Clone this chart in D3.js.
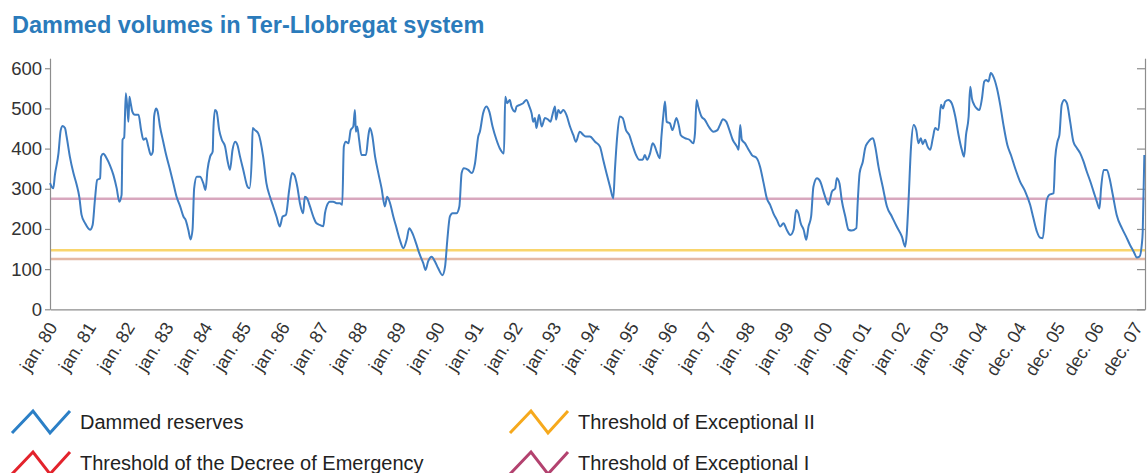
<!DOCTYPE html>
<meta charset="utf-8">
<style>
body { margin: 0; background: #fff; }
svg { font-family: "Liberation Sans", Arial, Helvetica, sans-serif; }
.title { font-weight: bold; font-size: 23.5px; fill: #2b7bbb; }
.axis text { fill: #333; }
.axis path, .axis line { stroke: #8d8d8d; stroke-width: 1.2; }
.legend text { font-size: 20px; fill: #222; }
</style>
<svg width="1147" height="473"></svg>
<script src="https://cdn.jsdelivr.net/npm/d3@7"></script>
<script>

// tick labels along the bottom, one per year
var tickLabels = ["jan. 80", "jan. 81", "jan. 82", "jan. 83", "jan. 84", "jan. 85", "jan. 86",
  "jan. 87", "jan. 88", "jan. 89", "jan. 90", "jan. 91", "jan. 92", "jan. 93", "jan. 94",
  "jan. 95", "jan. 96", "jan. 97", "jan. 98", "jan. 99", "jan. 00", "jan. 01", "jan. 02",
  "jan. 03", "jan. 04", "dec. 04", "dec. 05", "dec. 06", "dec. 07"];

var yTicks = [0, 100, 200, 300, 400, 500, 600];

// months since jan. 80 and dammed reserves (hm3)
var months = [
  0, 1.0, 1.5, 2.6, 3.3, 3.9, 4.6, 5.1, 6.1, 7.2, 8.2, 9.0, 9.7, 10.8, 12.3, 13.1, 13.8, 14.5, 15.4, 15.7,
  16.4, 17.4, 18.4, 19.5, 20.5, 21.3, 22.0, 22.3, 22.8, 23.3, 23.8, 24.1, 24.4, 24.8, 25.3, 26.1, 27.2, 28.0,
  28.7, 29.5, 30.2, 31.0, 31.6, 32.0, 32.6, 33.1, 33.8, 34.8, 35.7, 36.9, 37.9, 38.9, 40.0, 41.0, 41.7, 42.5,
  43.2, 43.8, 44.3, 45.1, 46.1, 47.1, 47.8, 48.4, 49.2, 50.0, 50.2, 50.7, 51.2, 52.0, 52.8, 53.8, 54.6, 55.3,
  56.1, 56.9, 57.6, 58.4, 59.4, 60.7, 61.3, 62.0, 62.3, 63.0, 64.0,
  65.5, 66.5, 67.6, 68.6, 69.6, 70.6, 71.5, 72.5, 73.5, 74.4, 75.1, 76.0, 76.8, 77.8, 78.3, 79.0, 79.9, 80.9,
  81.9, 82.9, 84.0, 84.5, 85.0, 86.0, 87.0, 88.1, 89.1, 89.8, 90.3, 90.9, 91.7, 92.4, 93.2, 93.7, 94.0, 94.4,
  95.0, 95.7, 97.1, 97.8, 98.3, 99.0, 99.9, 100.9, 101.9, 102.9, 103.6, 104.5, 105.5, 106.5, 107.5, 108.6,
  109.6, 110.4, 111.4, 112.5, 113.5, 114.7, 115.4, 116.2, 117.3, 118.3, 119.3, 120.6, 121.4, 122.1, 122.9,
  123.7, 124.9, 125.8, 126.5, 127.2, 128.5, 129.6, 130.6, 131.6,
  132.1, 133.1, 134.1, 135.0, 136.0, 137.2, 138.2, 139.5, 139.9, 140.5, 141.3, 141.8, 142.9, 143.4, 144.4,
  145.4, 146.4, 147.3, 148.0, 148.5, 149.0, 149.5, 150.3, 151.1, 152.1, 153.1, 153.8, 154.4, 155.2, 155.5,
  156.2, 156.9, 157.7, 158.7, 159.8, 160.8, 161.6, 162.8, 163.9, 164.7, 165.9, 167.5, 169.0, 170.0, 171.0,
  172.1, 173.1, 173.6, 174.3, 175.1, 176.0, 177.0, 178.0, 179.0, 180.1, 181.1, 182.1, 182.8, 183.5, 184.4,
  185.2, 185.9, 186.4, 187.4, 187.9, 188.5, 189.0, 189.5, 190.5, 191.3, 192.5, 193.3, 193.8, 195.1, 196.5,
  197.7, 198.2, 198.7, 199.2,
  200.2, 201.3, 202.4, 203.9, 205.1, 205.9, 206.8, 207.8, 208.8, 209.8, 211.1, 211.6, 212.1, 212.6, 213.6,
  214.7, 215.7, 217.2, 218.2, 219.3, 220.3, 221.3, 222.3, 223.4, 224.4, 225.4, 226.4, 227.5, 228.5, 229.3,
  230.0, 230.7, 231.6, 232.4, 233.1, 233.9, 234.6, 235.7, 236.7, 237.7, 238.7, 239.2, 240.3, 241.3, 241.8,
  242.6, 243.3, 244.4, 245.4, 246.4, 247.8, 248.2, 248.8, 249.8, 250.5, 251.5, 252.9, 253.6, 254.6, 255.9,
  257.2, 258.7, 260.2, 261.8, 262.8, 263.3, 263.8, 264.6, 265.4, 266.2, 266.9,
  267.6, 268.2, 268.9, 269.7, 270.5, 271.3, 272.0, 273.0, 273.8, 274.4, 275.1, 276.1, 277.1, 278.2, 279.2,
  280.2, 280.9, 281.5, 282.3, 282.8, 283.3, 284.0, 284.8, 285.6, 286.4, 287.1, 287.7, 288.4, 289.1, 289.9,
  291.0, 292.0, 293.0, 294.2, 295.3, 296.6, 298.1, 299.7, 301.2, 302.2, 303.3, 304.3, 305.1, 305.8, 306.3,
  307.1, 308.4, 308.9, 309.6, 310.2, 310.9, 311.7, 312.5, 313.5, 314.5, 315.6, 316.6, 317.6, 318.6, 319.7,
  320.7, 321.7, 322.5, 323.0, 323.8, 324.8, 325.6, 326.6, 327.8, 329.4, 330.7, 331.9, 333.0, 334.0, 334.8,
  335.5, 335.8, 336.3];

var reserves = [
  314, 301, 334, 388, 446, 456, 451, 430, 380, 339, 310, 280, 235, 214, 198, 210, 272, 322, 326, 380,
  387, 376, 359, 334, 301, 268, 285, 422, 428, 538, 496, 467, 529, 513, 492, 484, 484, 446,
  422, 426, 405, 384, 392, 480, 500, 492, 455, 417, 384, 347, 314, 280, 256, 231, 222, 198,
  174, 198, 301, 330, 330, 314, 297, 347, 380, 393, 446, 496, 492, 446, 422, 405, 368, 347,
  397, 417, 409, 380, 347, 305, 301, 376, 451, 446, 438,
  380, 314, 280, 256, 231, 206, 231, 235, 297, 339, 334, 305, 264, 239, 280, 276, 256, 231,
  214, 210, 207, 239, 256, 268, 268, 264, 264, 260, 405, 417, 413, 446, 455, 496, 442, 455,
  422, 384, 384, 430, 451, 434, 380, 339, 301, 256, 280, 264, 231, 202, 173, 152,
  173, 202, 189, 164, 139, 115, 98, 119, 131, 119, 102, 85, 106, 173, 231,
  239, 239, 256, 339, 351, 347, 339, 363, 430,
  442, 488, 505, 492, 455, 422, 401, 388, 529, 513, 521, 505, 492, 505, 509,
  513, 521, 505, 488, 467, 476, 451, 484, 455, 476, 472, 467, 484, 505, 472,
  496, 488, 496, 484, 455, 434, 417, 442, 434, 430, 430, 417, 405, 372, 339,
  305, 276, 347, 430, 480, 476, 446, 434, 409, 384, 372, 372, 384, 372, 388,
  413, 405, 393, 376, 430, 484, 517, 467, 463, 446, 476, 455, 434, 426, 422,
  413, 438, 521, 505,
  480, 471, 455, 442, 446, 459, 473, 467, 446, 422, 405, 397, 459, 422, 413,
  397, 384, 376, 355, 314, 276, 260, 239, 222, 206, 214, 198, 185, 198, 247,
  239, 214, 198, 173, 206, 231, 305, 326, 318, 293, 268, 260, 293, 301, 326,
  314, 272, 231, 198, 196, 202, 264, 339, 368, 401, 417, 426, 405, 355, 305,
  256, 231, 206, 181, 156, 189, 264, 405, 459, 446, 413,
  426, 411, 422, 405, 397, 426, 451, 446, 509, 500, 517, 521, 513, 480, 434,
  397, 380, 434, 480, 554, 525, 509, 500, 496, 525, 567, 571, 567, 588, 579,
  550, 509, 459, 409, 384, 351, 318, 293, 260, 227, 193, 178, 177, 235, 272,
  285, 289, 376, 417, 434, 509, 521, 513, 467, 417, 401, 388, 368, 343, 318,
  293, 268, 251, 301, 347, 347, 326, 285, 235, 202, 181, 160, 144, 129, 131,
  160, 193, 384];

var thresholdNames = ["Threshold of Exceptional I", "Threshold of Exceptional II", "Threshold of the Decree of Emergency"];
var thresholdValues = [275, 147, 125];

var legendNames = ["Dammed reserves", "Threshold of the Decree of Emergency",
  "Threshold of Exceptional II", "Threshold of Exceptional I"];

var svg = d3.select("svg");

var x = d3.scaleLinear().domain([0, 336.5]).range([50, 1145]);
var y = d3.scaleLinear().domain([0, 625]).range([309.3, 58.2]);
var xLabel = d3.scalePoint().domain(tickLabels).range([x(0), x(333.5)]);

var lineColors = {
  "Threshold of Exceptional I": "#d8a7be",
  "Threshold of Exceptional II": "#f9d56c",
  "Threshold of the Decree of Emergency": "#e4b8a4"
};
var legendColors = {
  "Dammed reserves": "#2b7fc6",
  "Threshold of the Decree of Emergency": "#e3232c",
  "Threshold of Exceptional II": "#f6a91c",
  "Threshold of Exceptional I": "#b3426f"
};

svg.append("text")
    .attr("class", "title")
    .attr("x", 12)
    .attr("y", 33)
    .text("Dammed volumes in Ter-Llobregat system");

// threshold lines
svg.append("g")
  .selectAll("line")
  .data(thresholdNames)
  .enter().append("line")
    .attr("x1", x(0))
    .attr("x2", x(336.5))
    .attr("y1", function(d, i) { return y(thresholdValues[i]); })
    .attr("y2", function(d, i) { return y(thresholdValues[i]); })
    .attr("stroke", function(d) { return lineColors[d]; })
    .attr("stroke-width", 2.5);

// axes
svg.append("g")
    .attr("class", "axis")
    .attr("transform", "translate(" + x(0) + ",0)")
    .call(d3.axisLeft(y).tickValues(yTicks).tickSize(5).tickSizeOuter(0).tickPadding(3))
    .selectAll("text").style("font-size", "18.5px");

svg.append("g")
    .attr("class", "axis")
    .attr("transform", "translate(" + x(336.5) + ",0)")
    .call(d3.axisRight(y).tickValues(yTicks).tickSize(-8).tickSizeOuter(0).tickFormat(""));

svg.append("g")
    .attr("class", "axis")
    .attr("transform", "translate(0," + y(0) + ")")
    .call(d3.axisBottom(x).tickValues([]).tickSizeOuter(0));

svg.append("g")
    .attr("class", "axis")
    .attr("transform", "translate(0," + y(0) + ")")
    .call(d3.axisBottom(xLabel).tickSize(0))
    .call(function(g) { g.select(".domain").remove(); })
  .selectAll("text")
    .style("font-size", "18px")
    .style("text-anchor", "end")
    .attr("x", 0)
    .attr("y", 0)
    .attr("dy", "0.3em")
    .attr("transform", "translate(3,15) rotate(-58)");

// the reserves series
var line = d3.line()
    .x(function(d, i) { return x(months[i]); })
    .y(function(d) { return y(d); })
    .curve(d3.curveMonotoneX);

svg.append("path")
    .datum(reserves)
    .attr("fill", "none")
    .attr("stroke", "#3f7dc1")
    .attr("stroke-width", 2)
    .attr("stroke-linejoin", "round")
    .attr("d", line);

// legend, two columns
var legend = svg.append("g").attr("class", "legend");
var item = legend.selectAll("g")
  .data(legendNames)
  .enter().append("g")
    .attr("transform", function(d, i) {
      return "translate(" + (i < 2 ? 12 : 510) + "," + (i % 2 ? 463 : 422) + ")";
    });

item.append("path")
    .attr("d", "M0,11L21,-11L38,11L58,-11")
    .attr("fill", "none")
    .attr("stroke", function(d) { return legendColors[d]; })
    .attr("stroke-width", 3);

item.append("text")
    .attr("x", 68)
    .attr("dy", "0.35em")
    .text(function(d) { return d; });

</script>
